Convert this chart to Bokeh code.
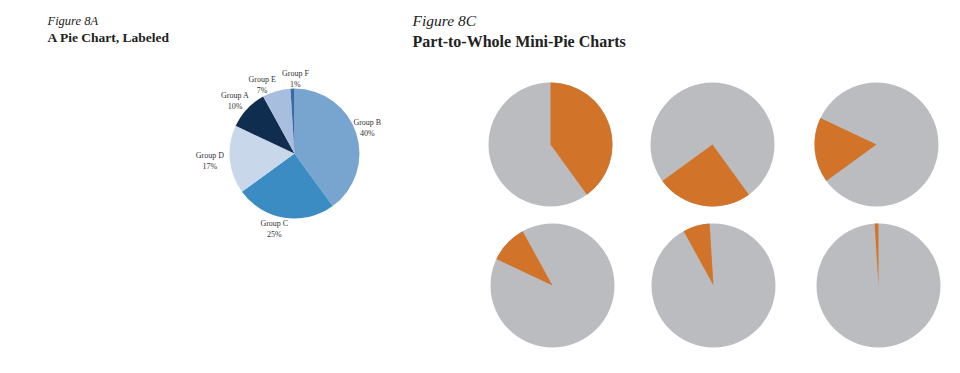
import math
from bokeh.plotting import figure
from bokeh.models import Range1d, Label, ColumnDataSource
from bokeh.core.properties import value
from bokeh.embed import file_html
from bokeh.resources import INLINE

# ---- data ----
groups = ["Group B", "Group C", "Group D", "Group A", "Group E", "Group F"]
shares = [40, 25, 17, 10, 7, 1]
colors = ["#78a5d0", "#3b8cc3", "#c8d8ea", "#0f2d4f", "#a8bedf", "#3a6ca3"]
highlight = "#d17429"
rest = "#bbbcc0"

# label placement (style): radius from centre and angle nudge in degrees
label_r = [77, 78, 85, 79, 76, 75]
label_nudge = [-1, 6, 0, -2, -9, 2.5]

W, H = 952, 365
PAGE_H = 373


def sy(y):  # screen y -> data y
    return PAGE_H - y


p = figure(width=W, height=H, output_backend="svg", toolbar_location=None,
           x_range=Range1d(0, W), y_range=Range1d(PAGE_H - H, PAGE_H),
           x_axis_location=None, y_axis_location=None, min_border=0)
p.xgrid.visible = False
p.ygrid.visible = False
p.outline_line_color = None
p.background_fill_color = "white"
p.border_fill_color = "white"

total = sum(shares)
starts, ends = [], []
c = 0
for s in shares:
    starts.append(c / total)
    c += s
    ends.append(c / total)

start_ang = [math.pi / 2 - 2 * math.pi * f for f in starts]
end_ang = [math.pi / 2 - 2 * math.pi * f for f in ends]

# ---- main pie ----
cx, cy, r = 294, sy(153), 65
src = ColumnDataSource(dict(s=start_ang, e=end_ang, color=colors))
p.wedge(x=cx, y=cy, radius=r, start_angle="s", end_angle="e", direction="clock",
        fill_color="color", line_color=None, source=src)

lx, ly1, ly2, t1, t2 = [], [], [], [], []
for g, s, a, b, lr, nd in zip(groups, shares, starts, ends, label_r, label_nudge):
    mid = (a + b) / 2 * 2 * math.pi + math.radians(nd)
    x = cx + lr * math.sin(mid)
    y = cy + lr * math.cos(mid)
    lx.append(x)
    ly1.append(y + 5.5)
    ly2.append(y - 5.5)
    t1.append(g)
    t2.append(f"{s}%")
p.text(x=lx, y=ly1, text=t1, text_font=value("Liberation Serif"), text_font_size="8px",
       text_align="center", text_baseline="middle", text_color="#333333")
p.text(x=lx, y=ly2, text=t2, text_font=value("Liberation Serif"), text_font_size="8px",
       text_align="center", text_baseline="middle", text_color="#333333")

# ---- mini pies ----
centers_x = [550, 712, 876, 552, 713, 878]
centers_y = [144, 144, 144, 285, 285, 285]
mr = 62
for i in range(len(groups)):
    mx, my = centers_x[i], sy(centers_y[i])
    p.wedge(x=mx, y=my, radius=mr, start_angle=0, end_angle=2 * math.pi,
            fill_color=rest, line_color=None)
    p.wedge(x=mx, y=my, radius=mr, start_angle=start_ang[i], end_angle=end_ang[i],
            direction="clock", fill_color=highlight, line_color=None)

# ---- titles ----
serif = "Liberation Serif"
p.add_layout(Label(x=47, y=sy(27), text="Figure 8A", text_font=serif, text_font_style="italic",
                   text_font_size="12.5px", text_color="#222222"))
p.add_layout(Label(x=47, y=sy(44), text="A Pie Chart, Labeled", text_font=serif,
                   text_font_style="bold", text_font_size="13.5px", text_color="#222222"))
p.add_layout(Label(x=412, y=sy(28), text="Figure 8C", text_font=serif, text_font_style="italic",
                   text_font_size="15.5px", text_color="#222222"))
p.add_layout(Label(x=412, y=sy(49), text="Part-to-Whole Mini-Pie Charts", text_font=serif,
                   text_font_style="bold", text_font_size="16px", text_color="#222222"))

open("out.html", "w").write(file_html(p, INLINE))
